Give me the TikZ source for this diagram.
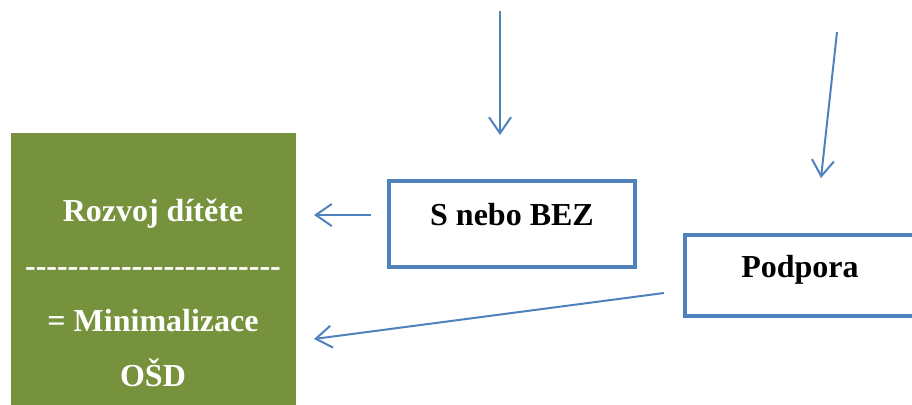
\documentclass[tikz,border=0pt]{standalone}
\usepackage{fontspec}
\setmainfont{Liberation Serif}
\usepackage{xcolor}
\usetikzlibrary{arrows.meta,calc}
\definecolor{olivegreen}{RGB}{118,146,60}
\definecolor{boxblue}{RGB}{79,129,189}

\begin{document}
\begin{tikzpicture}[x=1pt, y=-1pt,
  font=\fontsize{32}{55}\selectfont\bfseries,
  arr/.style={boxblue, line width=2pt, -{Straight Barb[length=16pt,width=22pt]}},
  frame/.style={draw=boxblue, line width=4pt, inner sep=0pt, outer sep=0pt},
  greenbox/.style={fill=olivegreen, inner sep=0pt, outer sep=0pt}]
\useasboundingbox (0,0) rectangle (912,404);
\clip (0,0) rectangle (912,404);
\node[greenbox, minimum width=285pt, minimum height=276pt] (rozvoj) at (153.5,271) {};
\node[text=white, align=center, anchor=base] (rozvojtxt) at (153,386)
  {Rozvoj dítěte\hspace{10pt}\\ -{}-{}-{}-{}-{}-{}-{}-{}-{}-{}-{}-{}-{}-{}-{}-{}-{}-{}-{}-{}-{}-{}-{}-{}\\ = Minimalizace\\ OŠD};
\node[frame, minimum width=246pt, text height=44pt, text depth=42pt] (sbez) at (512,224) {S nebo BEZ};
\node[frame, minimum width=230pt, text height=42pt, text depth=39pt] (podpora) at (800,275.5) {Podpora};
\coordinate (top1) at (500,11);
\coordinate (top2) at (837,32);
\draw[arr] (top1) -- ($(sbez.north)+(-12,-46)$);
\draw[arr] (top2) -- ($(podpora.north)+(21,-57)$);
\draw[arr] ($(sbez.west)+(-18,-9)$) -- ($(sbez.west -| rozvoj.east)+(18,-9)$);
\draw[arr] ($(podpora.west)+(-21,17.5)$) -- ($(rozvoj.east)+(18,68)$);
\end{tikzpicture}
\end{document}
